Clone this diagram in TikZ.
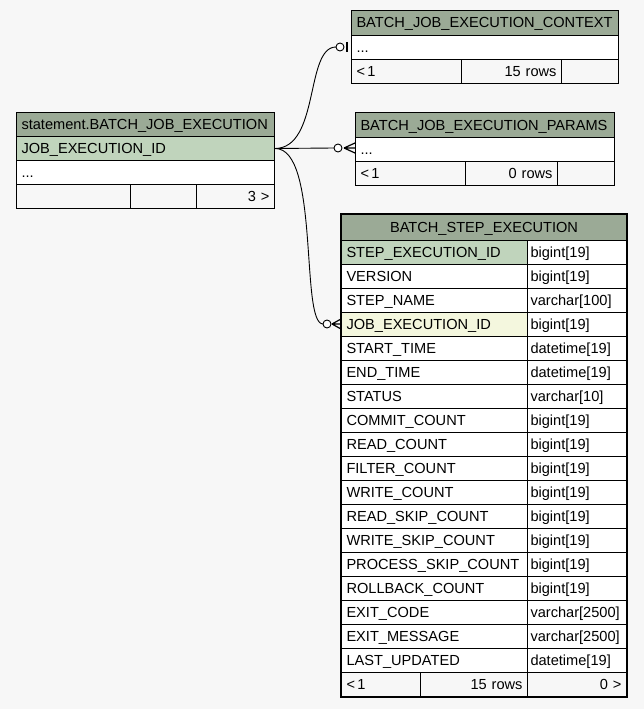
\documentclass[tikz,border=0pt]{standalone}
\usepackage{fontspec}
\setmainfont{Liberation Sans}
\definecolor{bg}{HTML}{F7F7F7}
\definecolor{hdr}{HTML}{9BAA96}
\definecolor{pk}{HTML}{C0D4BC}
\definecolor{fk}{HTML}{F4F7DE}
\definecolor{foot}{HTML}{F7F7F7}
\begin{document}
\begin{tikzpicture}[x=1pt,y=-1pt,
  cell/.style={draw=black, line width=1pt, anchor=north west, inner xsep=5pt, inner ysep=0pt,
    minimum height=24pt, text height=12pt, text depth=2pt, font=\fontsize{14.6}{16}\selectfont, fill=white},
  lcell/.style={cell, align=left},
  rcell/.style={cell, align=right},
  ccell/.style={cell, align=center},
  tcell/.style={cell, align=left, inner xsep=3pt},
  conn/.style={draw=black, line width=0.9pt},
  ring/.style={draw=black, line width=0.9pt, fill=white},
  bar/.style={draw=black, line width=2.2pt},
  crow/.style={draw=black, line width=1.2pt}]
\useasboundingbox[fill=bg] (0,0) rectangle (644,709);

% ---- statement.BATCH_JOB_EXECUTION
\node[lcell, fill=hdr, text width=248pt] (lt-h) at (16,112) {statement.BATCH\_JOB\_EXECUTION};
\node[lcell, fill=pk, text width=248pt] (lt-r1) at (16,136) {JOB\_EXECUTION\_ID};
\node[lcell, text width=248pt] (lt-r2) at (16,160) {...};
\node[lcell, fill=foot, text width=104pt] (lt-f1) at (16,184) {};
\node[lcell, fill=foot, text width=56pt] (lt-f2) at (130,184) {};
\node[rcell, fill=foot, text width=68pt] (lt-f3) at (196,184) {3 >};

% ---- BATCH_JOB_EXECUTION_CONTEXT
\node[lcell, fill=hdr, text width=257pt, minimum height=25pt] (cx-h) at (351,10) {BATCH\_JOB\_EXECUTION\_CONTEXT};
\node[lcell, text width=257pt] (cx-r1) at (351,35) {...};
\node[lcell, fill=foot, text width=100pt] (cx-f1) at (351,59) {<\,1};
\node[rcell, fill=foot, text width=90pt] (cx-f2) at (461,59) {15 rows};
\node[lcell, fill=foot, text width=47pt] (cx-f3) at (561,59) {};

% ---- BATCH_JOB_EXECUTION_PARAMS
\node[lcell, fill=hdr, text width=249pt, minimum height=25pt] (pa-h) at (355,112) {BATCH\_JOB\_EXECUTION\_PARAMS};
\node[lcell, text width=249pt] (pa-r1) at (355,137) {...};
\node[lcell, fill=foot, text width=100pt] (pa-f1) at (355,161) {<\,1};
\node[rcell, fill=foot, text width=82pt] (pa-f2) at (465,161) {0 rows};
\node[lcell, fill=foot, text width=47pt] (pa-f3) at (557,161) {};

% ---- BATCH_STEP_EXECUTION
\node[ccell, fill=hdr, text width=275pt, minimum height=26pt] (st-h) at (341,214) {BATCH\_STEP\_EXECUTION};
\foreach \i/\n/\t/\c in {
  0/STEP\_EXECUTION\_ID/bigint[19]/pk,
  1/VERSION/bigint[19]/white,
  2/STEP\_NAME/varchar[100]/white,
  3/JOB\_EXECUTION\_ID/bigint[19]/fk,
  4/START\_TIME/datetime[19]/white,
  5/END\_TIME/datetime[19]/white,
  6/STATUS/varchar[10]/white,
  7/COMMIT\_COUNT/bigint[19]/white,
  8/READ\_COUNT/bigint[19]/white,
  9/FILTER\_COUNT/bigint[19]/white,
  10/WRITE\_COUNT/bigint[19]/white,
  11/READ\_SKIP\_COUNT/bigint[19]/white,
  12/WRITE\_SKIP\_COUNT/bigint[19]/white,
  13/PROCESS\_SKIP\_COUNT/bigint[19]/white,
  14/ROLLBACK\_COUNT/bigint[19]/white,
  15/EXIT\_CODE/varchar[2500]/white,
  16/EXIT\_MESSAGE/varchar[2500]/white,
  17/LAST\_UPDATED/datetime[19]/white}{
  \node[lcell, fill=\c, text width=176pt] (st-n\i) at (341,240+24*\i) {\n};
  \node[tcell, text width=93pt] (st-t\i) at (527,240+24*\i) {\t};
}
\node[lcell, fill=foot, text width=69pt] (st-f1) at (341,672) {<\,1};
\node[rcell, fill=foot, text width=97pt] (st-f2) at (420,672) {15 rows};
\node[rcell, fill=foot, text width=89pt] (st-f3) at (527,672) {0 >};
\draw[line width=2.6pt] (st-h.north west) rectangle (st-f3.south east);

% ---- connectors
\coordinate (cx-end) at (336,47);
\coordinate (pa-end) at (334,148);
\coordinate (st-end) at (323,324);
\draw[conn] (lt-r1.east) .. controls (320,148) and (305,47) .. (cx-end);
\draw[conn] (lt-r1.east) -- (pa-end);
\draw[conn] (lt-r1.east) .. controls (320,148) and (300,324) .. (st-end);

% markers: context (zero or one)
\draw[ring] (340,47) circle (4);
\draw[bar] (347,42) -- (347,52);
% markers: params (zero or many)
\draw[ring] (338,148) circle (4);
\draw[crow] (344,148) -- (355,143) (344,148) -- (355,148) (344,148) -- (355,153);
% markers: step (zero or many)
\draw[ring] (327,324) circle (4);
\draw[crow] (332,324) -- (341,319) (332,324) -- (341,324) (332,324) -- (341,329);
\end{tikzpicture}
\end{document}
